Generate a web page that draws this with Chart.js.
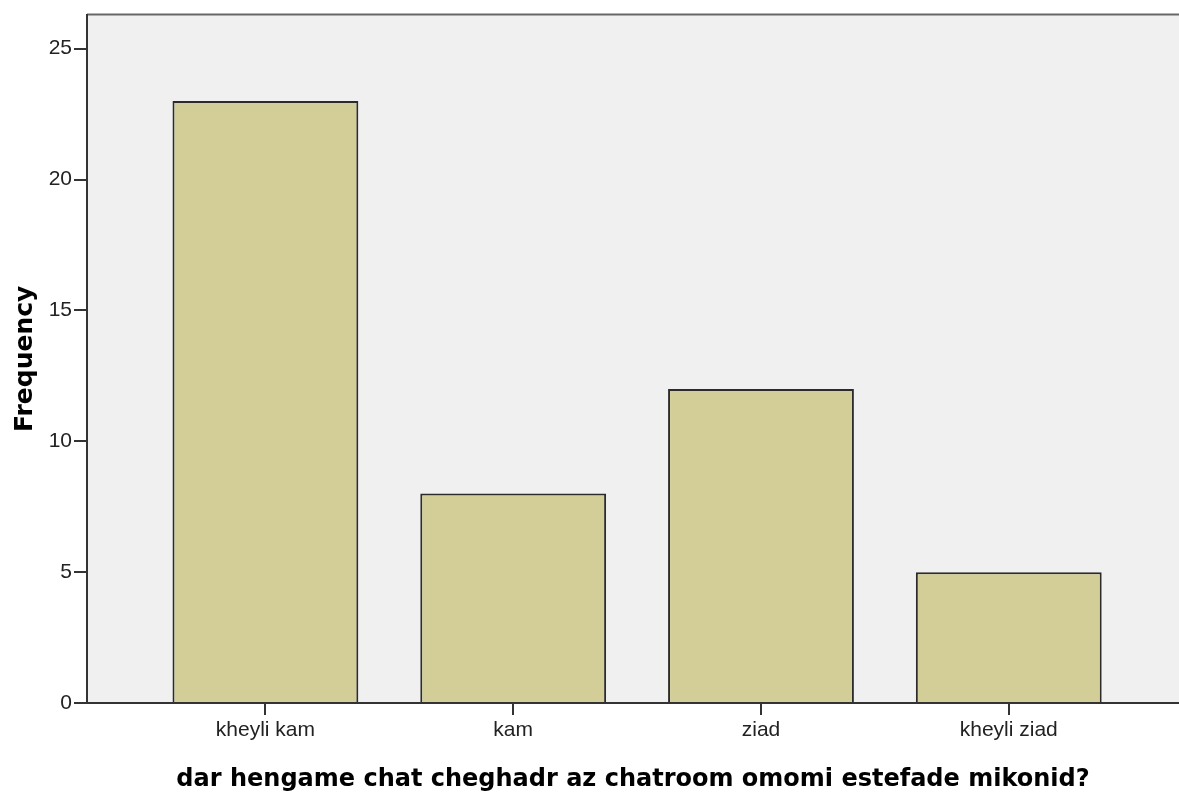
<!DOCTYPE html>
<html>
<head>
<meta charset="utf-8">
<script src="https://cdn.jsdelivr.net/npm/chart.js@4/dist/chart.umd.min.js"></script>
<style>
    html, body { margin: 0; padding: 0; background: #ffffff; }
    #wrap { width: 1179px; height: 794px; position: relative; }
</style>
</head>
<body>
<div id="wrap"><canvas id="freqChart"></canvas></div>
<script>
const categories = ['kheyli kam', 'kam', 'ziad', 'kheyli ziad'];
const frequency = [23, 8, 12, 5];
const yTicks = [0, 5, 10, 15, 20, 25];
const xTitle = 'dar hengame chat cheghadr az chatroom omomi estefade mikonid?';
const yTitle = 'Frequency';

// plot background + top frame line (SPSS style)
const plotFrame = {
    id: 'plotFrame',
    beforeDraw(chart) {
        const { ctx, chartArea: a } = chart;
        ctx.save();
        ctx.fillStyle = '#f0f0f0';
        ctx.fillRect(a.left, a.top, a.right - a.left, a.bottom - a.top);
        ctx.strokeStyle = '#666';
        ctx.lineWidth = 2;
        ctx.beginPath();
        ctx.moveTo(a.left, a.top);
        ctx.lineTo(a.right, a.top);
        ctx.stroke();
        ctx.restore();
    }
};

document.addEventListener('DOMContentLoaded', function () {
    new Chart(document.getElementById('freqChart'), {
        type: 'bar',
        data: {
            datasets: [{
                label: yTitle,
                data: frequency.map((v, i) => ({ x: i + 1, y: v })),
                backgroundColor: 'rgb(211, 206, 151)',
                borderColor: '#2b2b2b',
                borderWidth: 2,
                categoryPercentage: 0.75,
                barPercentage: 1
            }]
        },
        options: {
            responsive: true,
            maintainAspectRatio: false,
            animation: false,
            layout: { padding: { top: 14, right: 0, bottom: 0, left: 0 } },
            plugins: {
                legend: { display: false },
                tooltip: { enabled: false }
            },
            scales: {
                x: {
                    type: 'linear',
                    offset: false,
                    min: 0.28,
                    max: 4.687,
                    afterBuildTicks: (scale) => {
                        scale.ticks = categories.map((c, i) => ({ value: i + 1 }));
                    },
                    afterFit: (scale) => { scale.height = 91; },
                    ticks: {
                        callback: (value) => categories[value - 1],
                        color: '#222',
                        font: { family: '"Liberation Sans", Arial, sans-serif', size: 21 },
                        padding: 3,
                        maxRotation: 0
                    },
                    grid: {
                        offset: false,
                        drawOnChartArea: false,
                        drawTicks: true,
                        tickLength: 12,
                        color: '#333',
                        lineWidth: 2
                    },
                    border: { display: true, color: '#333', width: 2 },
                    title: {
                        display: true,
                        text: xTitle,
                        color: '#000',
                        font: { family: '"DejaVu Sans", sans-serif', size: 24, weight: 'bold' },
                        padding: { top: 0, bottom: 0 }
                    }
                },
                y: {
                    min: 0,
                    max: 26.3,
                    afterBuildTicks: (scale) => {
                        scale.ticks = yTicks.map(v => ({ value: v }));
                    },
                    afterFit: (scale) => { scale.width = 87; },
                    ticks: {
                        color: '#222',
                        font: { family: '"Liberation Sans", Arial, sans-serif', size: 21 },
                        padding: 2
                    },
                    grid: {
                        drawOnChartArea: false,
                        drawTicks: true,
                        tickLength: 13,
                        color: '#333',
                        lineWidth: 2
                    },
                    border: { display: true, color: '#333', width: 2 },
                    title: {
                        display: true,
                        text: yTitle,
                        color: '#000',
                        font: { family: '"DejaVu Sans", sans-serif', size: 25, weight: 'bold' },
                        padding: { top: 10, bottom: 0 }
                    }
                }
            }
        },
        plugins: [plotFrame]
    });
});
</script>
</body>
</html>
